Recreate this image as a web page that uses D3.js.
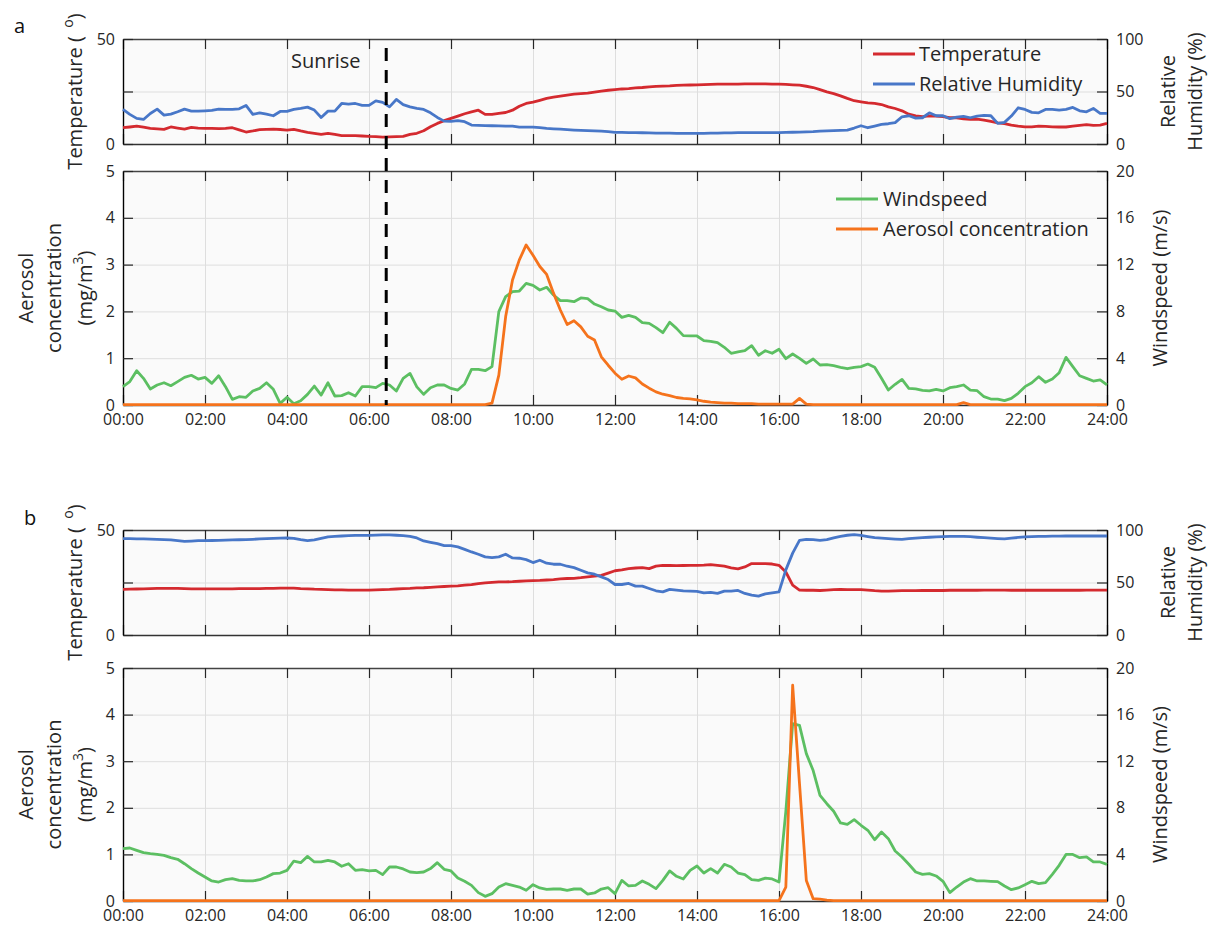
<!DOCTYPE html>
<html><head><meta charset="utf-8">
<script src="https://cdn.jsdelivr.net/npm/d3@7"></script>
<style>
body{margin:0;background:#fff;}
svg{display:block;font-family:"Open Sans",sans-serif;}
</style></head><body>
<svg id="chart" width="1210" height="933"></svg>
<script>
// ---------- data ----------
const stepMinutes = 10; // samples every 10 minutes, 00:00 .. 24:00
const xTickHours = [0,2,4,6,8,10,12,14,16,18,20,22,24];
const xTickLabels = ["00:00","02:00","04:00","06:00","08:00","10:00","12:00","14:00","16:00","18:00","20:00","22:00","24:00"];
const tempTicks = [0,25,50];
const tempTickLabels = ["0","","50"];
const rhTicks = [0,50,100];
const aerTicks = [0,1,2,3,4,5];
const windTicks = [0,4,8,12,16,20];
const sunriseHour = 6.42;

// Day a
const tempA = [
 7.75,8.1,8.5,8.0,7.4,7.2, 7.0,8.1,7.6,7.1,7.9,7.6, 7.4,7.4,7.3,7.4,7.75,6.7, 5.7,6.2,6.8,7.0,7.1,6.9,
 6.6,7.0,6.2,5.5,5.1,4.6, 5.1,4.6,4.0,4.0,4.0,3.8, 3.6,3.5,3.3,3.4,3.5,3.6, 4.6,5.1,6.3,8.2,9.8,11.1,
 12.2,13.3,14.4,15.3,16.1,14.1, 14.1,14.6,15.0,16.1,18.0,19.3, 19.9,20.8,21.7,22.3,22.8,23.3, 23.7,24.0,24.2,24.7,25.2,25.6,
 25.9,26.2,26.4,26.7,26.9,27.2, 27.4,27.6,27.7,27.9,28.0,28.1, 28.2,28.3,28.4,28.5,28.5,28.5, 28.5,28.6,28.6,28.6,28.6,28.5,
 28.5,28.4,28.2,28.0,27.5,26.9, 25.9,24.8,24.0,22.9,21.7,20.6, 20.1,19.6,19.3,18.8,17.7,16.9, 15.8,14.2,13.4,13.0,13.4,13.3,
 13.0,12.5,12.5,12.0,11.7,11.9, 11.4,10.8,10.1,9.7,9.0,8.5, 8.2,8.2,8.5,8.4,8.2,8.1, 8.1,8.5,8.9,9.2,8.9,9.0,
 9.8];
const rhA = [
 32.9,28.2,24.4,23.4,29.1,33.2, 27.5,28.5,30.7,33.2,31.3,31.3, 31.6,32.0,33.2,33.0,32.9,33.5, 36.7,28.2,29.7,28.5,26.9,31.0,
 31.0,32.9,33.9,35.1,32.3,25.3, 31.3,31.3,38.6,38.0,38.6,36.7, 36.7,41.1,39.6,35.4,42.4,37.5, 35.4,34.0,32.9,29.7,25.3,21.8,
 21.5,22.2,21.2,18.0,17.7,17.5, 17.4,17.2,17.1,17.1,16.1,16.1, 16.1,15.5,14.9,14.5,14.2,13.7, 13.3,13.0,12.7,12.5,12.3,11.7,
 11.1,11.0,10.9,10.8,10.7,10.5, 10.4,10.3,10.3,10.2,10.2,10.1, 10.1,10.2,10.3,10.4,10.5,10.6, 10.8,10.8,10.8,10.8,10.8,10.8,
 10.8,11.0,11.2,11.4,11.5,11.7, 12.3,12.5,12.7,13.0,13.3,15.2, 17.4,15.5,17.1,18.7,19.3,20.3, 25.9,26.9,24.7,25.0,29.7,26.9,
 26.9,24.1,25.6,26.3,25.0,26.6, 27.2,26.9,19.6,20.6,26.6,34.5, 32.9,30.1,29.7,32.9,32.9,32.3, 32.9,34.8,31.6,30.7,33.9,29.1,
 29.1];
const windA = [
 1.57,2.0,2.93,2.28,1.37,1.71, 1.9,1.65,2.0,2.36,2.54,2.22, 2.36,1.85,2.5,1.57,0.48,0.71, 0.66,1.2,1.42,1.9,1.34,0.14,
 0.66,0.11,0.37,0.91,1.62,0.85, 1.9,0.77,0.8,1.05,0.77,1.57, 1.57,1.48,1.85,1.71,1.2,2.28, 2.7,1.55,0.91,1.48,1.71,1.71,
 1.42,1.28,1.8,3.05,3.05,2.93, 3.28,7.98,9.26,9.69,9.74,10.4, 10.23,9.83,10.06,9.4,8.92,8.92, 8.83,9.15,9.09,8.63,8.4,8.12,
 8.03,7.49,7.66,7.49,7.04,6.98, 6.61,6.18,7.07,6.55,5.93,5.9, 5.9,5.5,5.44,5.33,4.93,4.42, 4.53,4.64,5.07,4.25,4.64,4.42,
 4.76,3.96,4.36,3.99,3.56,3.93, 3.42,3.45,3.36,3.22,3.1,3.22, 3.28,3.5,3.22,2.28,1.28,1.77, 2.19,1.42,1.37,1.25,1.2,1.34,
 1.2,1.48,1.57,1.71,1.28,1.22, 0.71,0.51,0.51,0.37,0.57,1.0, 1.57,1.9,2.42,1.94,2.22,2.76, 4.07,3.28,2.5,2.28,2.05,2.14,
 1.71];
const aerA = [
 0.01,0.01,0.01,0.01,0.01,0.01, 0.01,0.01,0.01,0.01,0.01,0.01, 0.01,0.01,0.01,0.01,0.01,0.01, 0.01,0.01,0.01,0.01,0.01,0.01,
 0.01,0.01,0.01,0.01,0.01,0.01, 0.01,0.01,0.01,0.01,0.01,0.01, 0.01,0.01,0.01,0.01,0.01,0.01, 0.01,0.01,0.01,0.01,0.01,0.01,
 0.01,0.01,0.01,0.01,0.01,0.01, 0.04,0.64,1.89,2.67,3.1,3.42, 3.2,2.96,2.79,2.39,2.03,1.72, 1.8,1.67,1.47,1.39,1.03,0.85,
 0.68,0.55,0.62,0.58,0.45,0.36, 0.28,0.23,0.2,0.16,0.14,0.13, 0.11,0.08,0.06,0.05,0.04,0.04, 0.03,0.03,0.03,0.02,0.02,0.02,
 0.02,0.02,0.02,0.14,0.02,0.01, 0.01,0.01,0.01,0.01,0.01,0.01, 0.01,0.01,0.01,0.01,0.01,0.01, 0.01,0.01,0.01,0.01,0.01,0.01,
 0.01,0.01,0.01,0.05,0.01,0.01, 0.01,0.01,0.01,0.01,0.01,0.01, 0.01,0.01,0.01,0.01,0.01,0.01, 0.01,0.01,0.01,0.01,0.01,0.01,
 0.01];

// Day b
const tempB = [
 21.7,21.8,21.9,22.0,22.1,22.2, 22.2,22.2,22.2,22.1,22.0,22.0, 22.0,22.0,22.0,22.0,22.0,22.1, 22.1,22.1,22.1,22.2,22.2,22.3,
 22.3,22.3,22.1,22.0,21.8,21.7, 21.6,21.5,21.5,21.4,21.4,21.4, 21.4,21.5,21.6,21.7,21.9,22.1, 22.2,22.4,22.5,22.7,22.9,23.1,
 23.3,23.4,23.7,24.0,24.5,24.8, 25.1,25.3,25.3,25.4,25.6,25.8, 25.9,26.0,26.2,26.4,26.7,26.9, 27.0,27.3,27.7,28.0,28.4,29.5,
 30.6,31.0,31.6,31.9,32.1,31.6, 32.8,33.2,33.1,33.0,33.1,33.2, 33.2,33.3,33.5,33.2,32.8,32.0, 31.5,32.4,34.0,34.0,34.0,33.8,
 33.2,30.0,23.7,21.4,21.3,21.3, 21.2,21.4,21.6,21.7,21.6,21.6, 21.6,21.4,21.1,20.9,20.9,21.0, 21.1,21.1,21.1,21.2,21.2,21.2,
 21.2,21.3,21.3,21.3,21.3,21.3, 21.4,21.4,21.4,21.4,21.3,21.3, 21.3,21.3,21.3,21.3,21.3,21.3, 21.3,21.3,21.3,21.4,21.4,21.4,
 21.4];
const rhB = [
 91.8,91.7,91.6,91.5,91.3,91.0, 90.8,90.5,89.8,89.2,89.5,89.8, 89.9,90.0,90.2,90.4,90.6,90.7, 90.8,91.1,91.5,91.8,92.1,92.3,
 92.4,92.0,90.8,89.9,90.5,92.0, 93.4,93.9,94.3,94.6,94.8,94.9, 94.9,95.1,95.3,95.3,95.0,94.6, 94.0,92.4,89.6,88.3,87.0,85.1,
 85.1,83.9,81.6,79.1,76.9,74.4, 73.7,74.4,76.9,73.4,73.1,71.8, 69.0,71.2,68.4,67.4,67.4,65.5, 64.2,61.7,59.2,57.9,55.4,52.8,
 48.1,48.1,49.1,46.5,46.5,44.3, 42.1,41.1,43.4,42.7,42.1,41.8, 41.5,40.2,40.5,39.6,41.8,41.8, 42.4,39.6,38.0,37.0,39.2,40.2,
 41.1,62.0,78.0,90.2,91.1,90.8, 90.2,90.8,92.5,94.0,95.0,95.6, 94.9,93.8,92.7,92.2,91.8,91.4, 91.1,91.8,92.3,92.7,93.1,93.4,
 93.7,93.9,94.0,94.0,93.6,93.1, 92.7,92.2,91.8,91.5,92.2,92.9, 93.4,93.7,93.9,94.0,94.1,94.2, 94.3,94.3,94.3,94.3,94.3,94.3,
 94.3];
const windB = [
 4.49,4.55,4.35,4.15,4.06,4.0, 3.92,3.72,3.58,3.2,2.78,2.4, 2.06,1.72,1.63,1.83,1.92,1.77, 1.72,1.72,1.83,2.06,2.35,2.4,
 2.63,3.43,3.29,3.83,3.35,3.35, 3.49,3.35,2.98,3.2,2.63,2.69, 2.58,2.63,2.26,2.92,2.92,2.75, 2.49,2.43,2.49,2.78,3.29,2.72,
 2.58,1.97,1.69,1.34,0.72,0.4, 0.63,1.2,1.49,1.34,1.2,0.92, 1.4,1.12,1.0,1.03,1.03,0.92, 1.03,1.03,0.6,0.69,1.03,1.14,
 0.63,1.77,1.29,1.34,1.72,1.43, 1.06,1.77,2.58,2.12,1.89,2.63, 3.0,2.4,2.78,2.4,3.15,2.92, 2.4,2.26,1.83,1.77,1.97,1.89,
 1.63,7.7,15.22,15.08,12.65,11.2, 9.07,8.35,7.7,6.7,6.58,6.98, 6.5,6.07,5.26,5.92,5.35,4.29, 3.78,3.15,2.49,2.29,2.35,2.15,
 1.69,0.72,1.2,1.63,1.92,1.72, 1.72,1.69,1.66,1.29,0.97,1.12, 1.4,1.69,1.49,1.57,2.29,3.06, 4.0,4.0,3.72,3.78,3.35,3.35,
 3.15];
const aerB = [
 0.01,0.01,0.01,0.01,0.01,0.01, 0.01,0.01,0.01,0.01,0.01,0.01, 0.01,0.01,0.01,0.01,0.01,0.01, 0.01,0.01,0.01,0.01,0.01,0.01,
 0.01,0.01,0.01,0.01,0.01,0.01, 0.01,0.01,0.01,0.01,0.01,0.01, 0.01,0.01,0.01,0.01,0.01,0.01, 0.01,0.01,0.01,0.01,0.01,0.01,
 0.01,0.01,0.01,0.01,0.01,0.01, 0.01,0.01,0.01,0.01,0.01,0.01, 0.01,0.01,0.01,0.01,0.01,0.01, 0.01,0.01,0.01,0.01,0.01,0.01,
 0.01,0.01,0.01,0.01,0.01,0.01, 0.01,0.01,0.01,0.01,0.01,0.01, 0.01,0.01,0.01,0.01,0.01,0.01, 0.01,0.01,0.01,0.01,0.01,0.01,
 0.01,0.3,4.63,2.52,0.44,0.05, 0.04,0.02,0.01,0.01,0.01,0.01, 0.01,0.01,0.01,0.01,0.01,0.01, 0.01,0.01,0.01,0.01,0.01,0.01,
 0.01,0.01,0.01,0.01,0.01,0.01, 0.01,0.01,0.01,0.01,0.01,0.01, 0.01,0.01,0.01,0.01,0.01,0.01, 0.01,0.01,0.01,0.01,0.01,0.01,
 0.01];

// ---------- styles ----------
const C = {temp:"#d42a2f", rh:"#4877c8", wind:"#5cbf62", aer:"#f5731c", text:"#262626", grid:"#dedede", bg:"#fafafa"};
const LW = 2.8;
const plotLeft = 123, plotRight = 1107;

const svg = d3.select("#chart");
const x = d3.scaleLinear().domain([0,24]).range([plotLeft, plotRight]);
const hourOf = i => i*stepMinutes/60;

function styleAxis(g, domainColor){
  g.attr("font-size",16).attr("font-family","'Open Sans',sans-serif");
  g.selectAll("text").attr("fill",C.text);
  g.selectAll(".tick line").attr("stroke","#262626").attr("stroke-width",1.2);
  g.select(".domain").attr("stroke",domainColor).attr("stroke-width",1.4);
}

function panel(cfg){
  const {top,bottom,yL,yR,lTicks,lLabels,rTicks,xLabels} = cfg;
  const g = svg.append("g");
  const h = bottom - top;
  g.append("rect").attr("x",plotLeft).attr("y",top).attr("width",plotRight-plotLeft).attr("height",h).attr("fill",C.bg);
  // grid
  g.append("g").attr("transform",`translate(0,${bottom})`)
    .call(d3.axisBottom(x).tickValues(xTickHours.slice(1,-1)).tickSize(-h).tickFormat(""))
    .call(s=>{s.select(".domain").remove(); s.selectAll("line").attr("stroke",C.grid).attr("stroke-width",1);});
  g.append("g").attr("transform",`translate(${plotLeft},0)`)
    .call(d3.axisLeft(yL).tickValues(lTicks.slice(1,-1)).tickSize(-(plotRight-plotLeft)).tickFormat(""))
    .call(s=>{s.select(".domain").remove(); s.selectAll("line").attr("stroke",C.grid).attr("stroke-width",1);});
  // axes
  g.append("g").attr("transform",`translate(0,${top})`)
    .call(d3.axisTop(x).tickValues(xTickHours).tickSizeInner(-10).tickSizeOuter(0).tickFormat(""))
    .call(s=>styleAxis(s,"#444"));
  g.append("g").attr("transform",`translate(0,${bottom})`)
    .call(d3.axisBottom(x).tickValues(xTickHours).tickSizeInner(-10).tickSizeOuter(0).tickPadding(9)
      .tickFormat((d,i)=> xLabels ? xTickLabels[i] : ""))
    .call(s=>styleAxis(s,"#333"));
  g.append("g").attr("transform",`translate(${plotLeft},0)`)
    .call(d3.axisLeft(yL).tickValues(lTicks).tickSizeInner(-10).tickSizeOuter(0).tickPadding(8)
      .tickFormat((d,i)=>lLabels[i]))
    .call(s=>styleAxis(s,"#000"));
  g.append("g").attr("transform",`translate(${plotRight},0)`)
    .call(d3.axisRight(yR).tickValues(rTicks).tickSizeInner(-10).tickSizeOuter(0).tickPadding(9))
    .call(s=>styleAxis(s,"#000"));
  return g;
}

function drawLine(g, data, y, color){
  g.append("path").datum(data)
    .attr("d", d3.line().x((d,i)=>x(hourOf(i))).y(d=>y(d)))
    .attr("fill","none").attr("stroke",color).attr("stroke-width",LW)
    .attr("stroke-linejoin","round").attr("stroke-linecap","butt");
}

function metPanel(top,bottom,temp,rh){
  const yL = d3.scaleLinear().domain([0,50]).range([bottom,top]);
  const yR = d3.scaleLinear().domain([0,100]).range([bottom,top]);
  const g = panel({top,bottom,yL,yR,lTicks:tempTicks,lLabels:tempTickLabels,rTicks:rhTicks,xLabels:false});
  drawLine(g,temp,yL,C.temp);
  drawLine(g,rh,yR,C.rh);
  const cy = (top+bottom)/2;
  const t = svg.append("text").attr("transform",`translate(82,${cy}) rotate(-90)`)
    .attr("text-anchor","middle").attr("font-size",20).attr("fill",C.text);
  t.append("tspan").text("Temperature (\u2009 ");
  t.append("tspan").attr("font-size",14).attr("dy",-9).text("o");
  t.append("tspan").attr("dy",9).text(")");
  const r = svg.append("text").attr("transform",`translate(1175,${cy}) rotate(-90)`)
    .attr("text-anchor","middle").attr("font-size",20).attr("fill",C.text);
  r.append("tspan").attr("x",0).attr("y",0).text("Relative");
  r.append("tspan").attr("x",0).attr("y",27).text("Humidity (%)");
  return {g,yL,yR};
}

function aerPanel(top,bottom,wind,aer){
  const yL = d3.scaleLinear().domain([0,5]).range([bottom,top]);
  const yR = d3.scaleLinear().domain([0,20]).range([bottom,top]);
  const g = panel({top,bottom,yL,yR,lTicks:aerTicks,lLabels:aerTicks.map(String),rTicks:windTicks,xLabels:true});
  drawLine(g,wind,yR,C.wind);
  drawLine(g,aer,yL,C.aer);
  const cy = (top+bottom)/2;
  const t = svg.append("text").attr("transform",`translate(33,${cy}) rotate(-90)`)
    .attr("text-anchor","middle").attr("font-size",20).attr("fill",C.text);
  t.append("tspan").attr("x",0).attr("y",0).text("Aerosol");
  t.append("tspan").attr("x",0).attr("y",28).text("concentration");
  const t3 = svg.append("text").attr("transform",`translate(92,${cy}) rotate(-90)`)
    .attr("text-anchor","middle").attr("font-size",20).attr("fill",C.text);
  t3.append("tspan").text("(mg/m");
  t3.append("tspan").attr("font-size",14).attr("dy",-9).text("3");
  t3.append("tspan").attr("dy",9).text(")");
  svg.append("text").attr("transform",`translate(1167,${cy}) rotate(-90)`)
    .attr("text-anchor","middle").attr("font-size",20).attr("fill",C.text).text("Windspeed (m/s)");
  return {g,yL,yR};
}

function legend(items, x0, x1, tx, ys){
  items.forEach((it,i)=>{
    svg.append("line").attr("x1",x0).attr("x2",x1).attr("y1",ys[i]).attr("y2",ys[i])
      .attr("stroke",it.color).attr("stroke-width",LW);
    svg.append("text").attr("x",tx).attr("y",ys[i]).attr("dy","0.35em")
      .attr("font-size",20).attr("fill",C.text).text(it.label);
  });
}

// ---------- panels ----------
const pa1 = metPanel(39,144,tempA,rhA);
const pa2 = aerPanel(171,405,windA,aerA);
const pb1 = metPanel(530,635,tempB,rhB);
const pb2 = aerPanel(668,901,windB,aerB);

legend([{label:"Temperature",color:C.temp},{label:"Relative Humidity",color:C.rh}],873,915,919,[54,84]);
legend([{label:"Windspeed",color:C.wind},{label:"Aerosol concentration",color:C.aer}],836,878,883,[199,229]);

// sunrise
svg.append("line").attr("x1",x(sunriseHour)).attr("x2",x(sunriseHour)).attr("y1",48).attr("y2",405)
  .attr("stroke","#000").attr("stroke-width",3).attr("stroke-dasharray","13,9");
svg.append("text").attr("x",291).attr("y",68).attr("font-size",20).attr("fill",C.text).text("Sunrise");

// panel letters
svg.append("text").attr("x",14).attr("y",33).attr("font-size",20).attr("fill","#111").text("a");
svg.append("text").attr("x",24).attr("y",525).attr("font-size",20).attr("fill","#111").text("b");
</script>
</body></html>
